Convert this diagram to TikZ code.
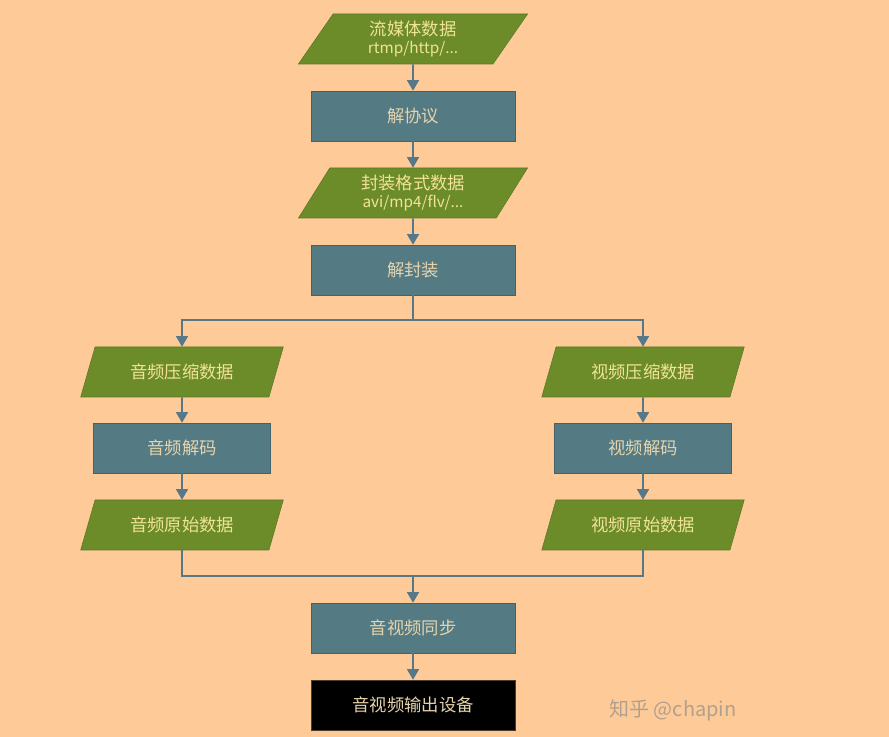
\documentclass[tikz,border=0pt]{standalone}
\usepackage{fontspec}
\setmainfont{Noto Sans CJK SC}
\usetikzlibrary{shapes.geometric,arrows.meta}

\definecolor{bgpeach}{RGB}{254,203,152}
\definecolor{datagreen}{RGB}{108,140,42}
\definecolor{procblue}{RGB}{84,122,132}
\definecolor{linecol}{RGB}{86,120,136}
\definecolor{datatext}{RGB}{242,226,150}
\definecolor{proctext}{RGB}{230,212,172}
\definecolor{marktext}{RGB}{178,160,142}

\tikzset{
  dataio/.style={trapezium, trapezium left angle=62, trapezium right angle=118,
    trapezium stretches=true, minimum width=172pt, minimum height=37.5pt,
    fill=datagreen, draw=datagreen!85!black, line width=0.4pt,
    text=datatext, font=\fontsize{13}{15}\selectfont, align=center, inner sep=0pt},
  sidedata/.style={dataio, minimum width=152pt},
  procbox/.style={rectangle, minimum width=153pt, minimum height=37.5pt,
    fill=procblue, draw=procblue!80!black, line width=0.4pt,
    text=proctext, font=\fontsize{13}{15}\selectfont},
  sideproc/.style={procbox, minimum width=133pt},
  outbox/.style={procbox, fill=black, draw=black!70!bgpeach, text=proctext},
  flowline/.style={draw=linecol, line width=1.3pt},
  flowarrow/.style={flowline, -{Triangle[width=9pt,length=8pt]}}
}

\begin{document}
\begin{tikzpicture}[x=0.75pt, y=-0.75pt]

    % background
    \fill[bgpeach] (0,0) rectangle (889,737);
    \useasboundingbox (0,0) rectangle (889,737);

    % main column
    \node[dataio] (lmt) at (413,39) {流媒体数据\\[-1pt]{\fontsize{11.5}{13}\selectfont rtmp/http/...}};
    \node[procbox] (jxy) at (413,116) {解协议};
    \node[dataio] (fzgs) at (413,193) {封装格式数据\\[-1pt]{\fontsize{11.5}{13}\selectfont avi/mp4/flv/...}};
    \node[procbox] (jfz) at (413,270) {解封装};

    % audio branch
    \node[sidedata] (ayys) at (182,372) {音频压缩数据};
    \node[sideproc] (ayjm) at (182,448) {音频解码};
    \node[sidedata] (ayss) at (182,525) {音频原始数据};

    % video branch
    \node[sidedata] (spys) at (643,372) {视频压缩数据};
    \node[sideproc] (spjm) at (643,448) {视频解码};
    \node[sidedata] (spss) at (643,525) {视频原始数据};

    % sync and output
    \node[procbox] (tb) at (413,628) {音视频同步};
    \node[outbox] (sc) at (413,705) {音视频输出设备};

    % split and merge points
    \coordinate (split) at (413,320);
    \coordinate (merge) at (413,576);

    % connectors
    \draw[flowarrow] (lmt) -- (jxy);
    \draw[flowarrow] (jxy) -- (fzgs);
    \draw[flowarrow] (fzgs) -- (jfz);
    \draw[flowline] (jfz) -- (split);
    \draw[flowarrow] (split) -| (ayys);
    \draw[flowarrow] (split) -| (spys);
    \draw[flowarrow] (ayys) -- (ayjm);
    \draw[flowarrow] (ayjm) -- (ayss);
    \draw[flowarrow] (spys) -- (spjm);
    \draw[flowarrow] (spjm) -- (spss);
    \draw[flowline] (ayss) |- (merge);
    \draw[flowline] (spss) |- (merge);
    \draw[flowarrow] (merge) -- (tb);
    \draw[flowarrow] (tb) -- (sc);

    % watermark
    \node[text=marktext, font=\fontsize{15}{18}\selectfont] (mark) at (673,710) {知乎 @chapin};

\end{tikzpicture}
\end{document}
